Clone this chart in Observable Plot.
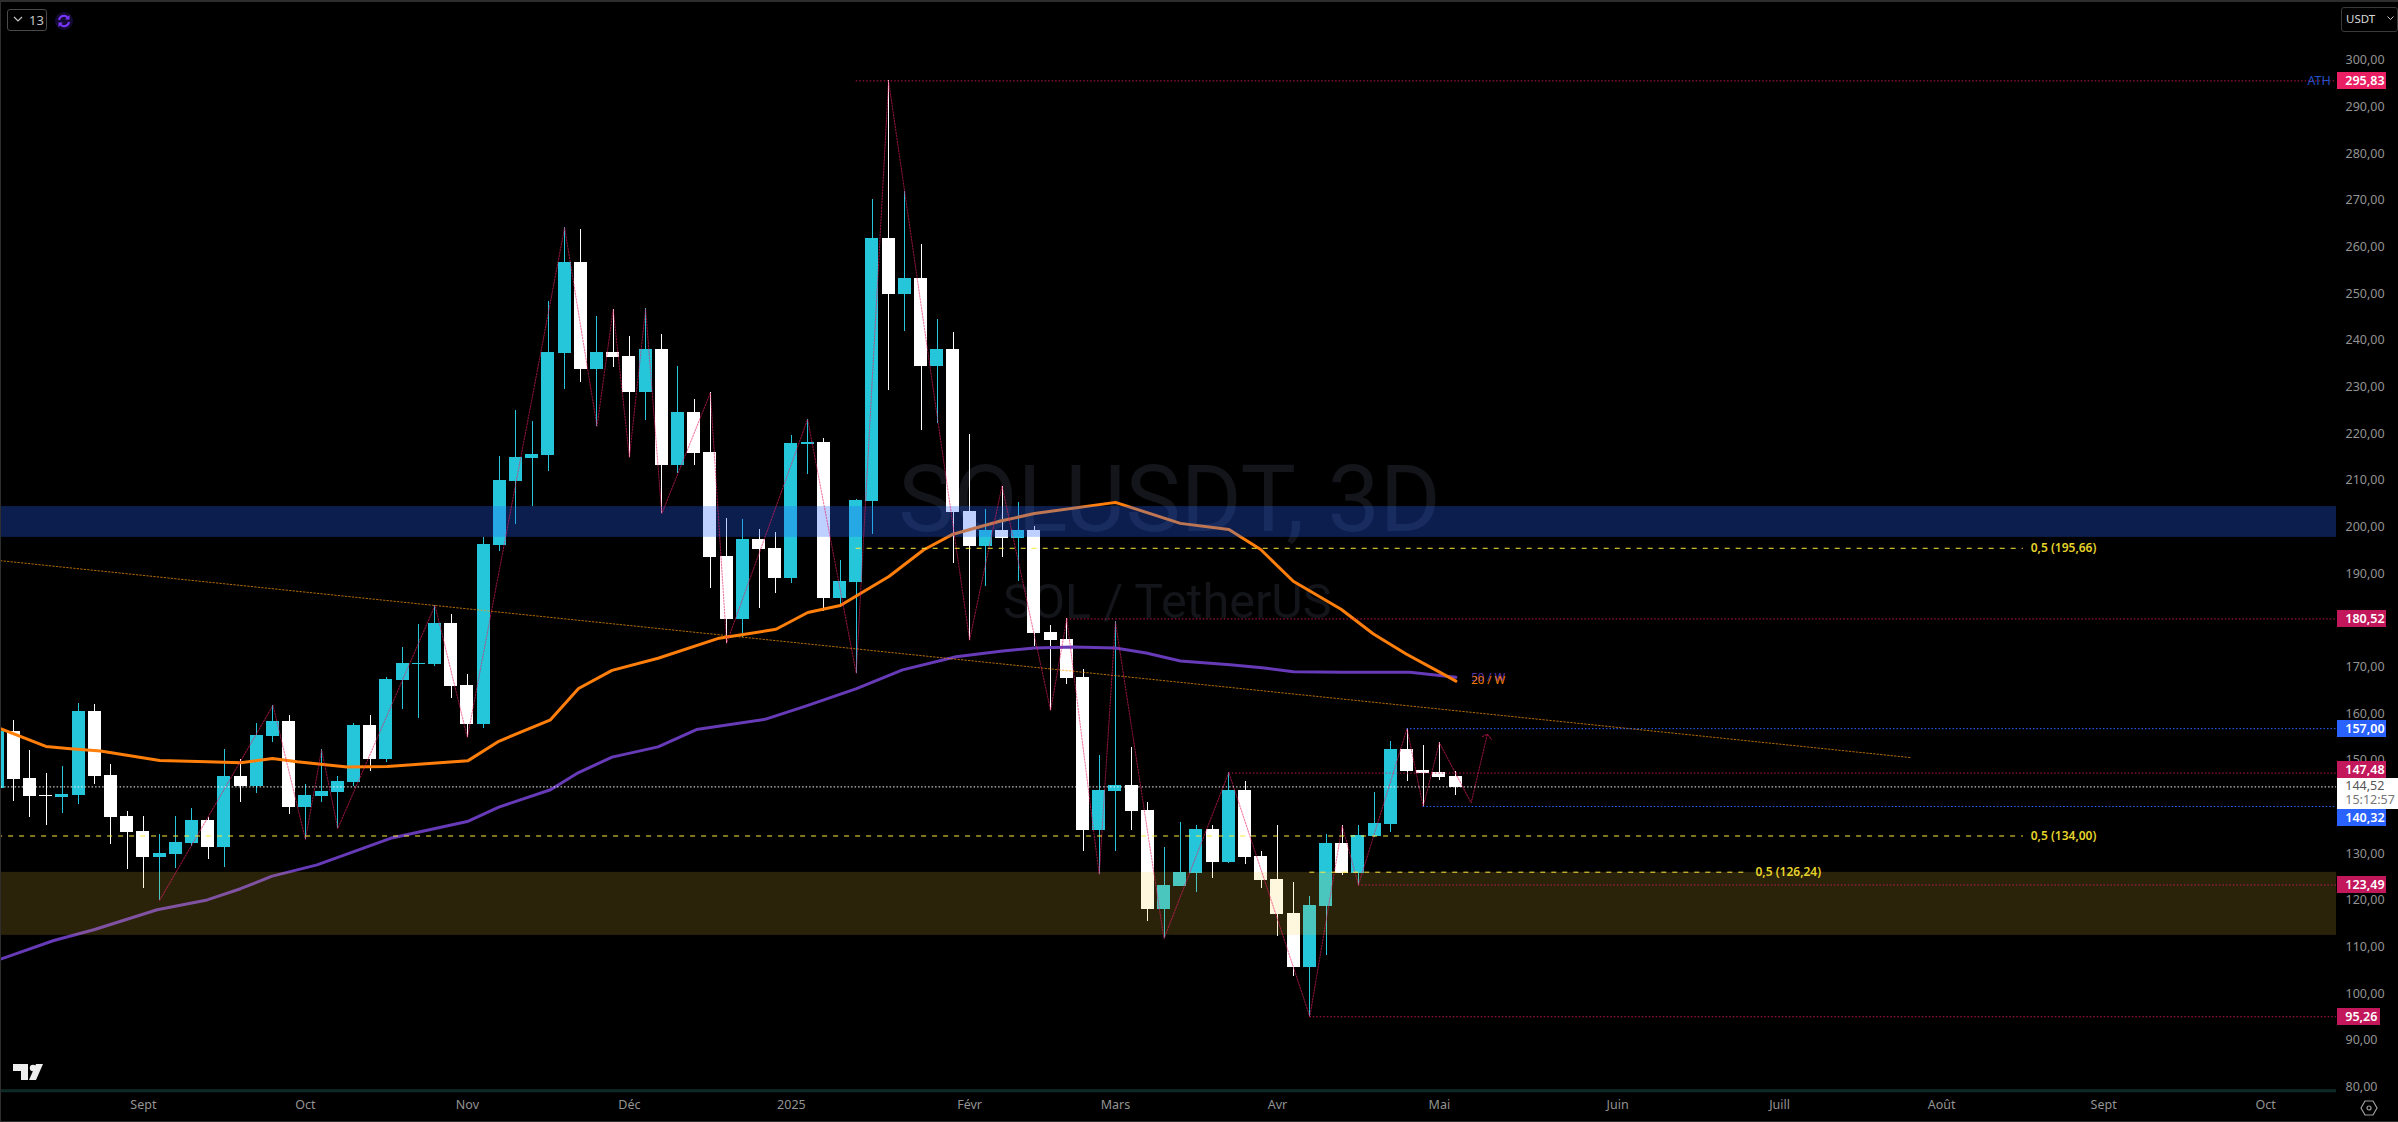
<!DOCTYPE html>
<html lang="fr">
<head>
<meta charset="utf-8">
<title>SOLUSDT, 3D</title>
<script src="https://cdn.jsdelivr.net/npm/d3@7"></script>
<script src="https://cdn.jsdelivr.net/npm/@observablehq/plot@0.6"></script>
<style>
html,body{margin:0;padding:0;background:#000;width:2398px;height:1122px;overflow:hidden}
#chart{position:absolute;left:0;top:0}
.chrome{position:absolute;font-family:"Noto Sans",sans-serif}
</style>
</head>
<body>
<div id="chart"></div>
<div class="chrome" style="left:0;top:0;width:2398px;height:2px;background:#2e2e2e"></div>
<div class="chrome" style="left:0;top:0;width:1px;height:1122px;background:#2e2e2e"></div>
<div class="chrome" style="left:0;top:1121px;width:2398px;height:1px;background:#2e2e2e"></div>
<div class="chrome" style="left:7px;top:9px;width:38px;height:20px;border:1px solid #4a4a4a;border-radius:3px;color:#c4c4c4;font-size:13px;line-height:20px;text-indent:21px">13</div>
<svg class="chrome" style="left:12px;top:14px" width="12" height="10"><path d="M2 3l4 4 4-4" fill="none" stroke="#c4c4c4" stroke-width="1.2"/></svg>
<svg class="chrome" style="left:54px;top:11px" width="20" height="20"><circle cx="10" cy="10" r="9" fill="#150a33"/><path d="M5 9a5 5 0 0 1 9-2M15 11a5 5 0 0 1-9 2" fill="none" stroke="#7a35ff" stroke-width="2"/><path d="M15.5 4v4.500h-4.500zM4.500 16v-4.500h4.500z" fill="#7a35ff"/></svg>
<div class="chrome" style="left:2341px;top:7px;width:55px;height:23px;border:1px solid #3a3a3a;border-radius:3px;color:#d8d8d8;font-size:11.500px;line-height:22px;text-indent:4px;box-sizing:content-box">USDT</div>
<svg class="chrome" style="left:2386px;top:14px" width="9" height="8"><path d="M1.500 2.500l3 3 3-3" fill="none" stroke="#c4c4c4" stroke-width="1"/></svg>
<svg class="chrome" style="left:12px;top:1063px" width="32" height="18"><path d="M1 1h15v16h-7V8H1z" fill="#eee"/><circle cx="21" cy="5" r="3.200" fill="#eee"/><path d="M24 1h7l-7 16h-7z" fill="#eee"/></svg>
<svg class="chrome" style="left:2360px;top:1099px" width="18" height="18"><path d="M5 2h8l4 7-4 7H5L1 9z" fill="none" stroke="#a0a0a0" stroke-width="1.200"/><circle cx="9" cy="9" r="2" fill="none" stroke="#a0a0a0" stroke-width="1.200"/></svg>
<script>
const open = [144.2,156.4,146.3,142.7,142.2,142.7,160.7,147,138.2,135,129.4,130,132.4,137.3,131.5,146.7,144.6,155.3,158.5,140.1,142.5,143.3,145.5,157.7,150.4,167.3,170.8,170.8,179.5,166.3,157.9,196.3,210,214.9,215.6,237.4,256.9,233.9,237.6,236.7,229,238.3,213.3,224.7,216.1,193.9,180.4,197.5,195.6,189.1,217.9,218.3,184.9,188.3,205.6,262,250,253.5,234.6,238.3,203.5,196,199.5,197.8,199.5,177.6,176.1,167.9,135.1,143.5,144.8,139.4,118.2,123.2,126,135.4,128.3,143.7,129.6,124.7,117.4,105.8,118.9,132.4,126,133.9,136.4,152.5,148,147.6,146.7];
const high = [158,158.7,152.3,147.4,148.9,162.4,162.2,149.3,139.2,138.2,134.3,138.2,139.9,138,152.5,150.4,158.1,162,159.8,145,152.5,146.8,158.1,159.8,168,174.4,179.3,183.4,181.5,168.6,198,215.3,225.2,222.8,248.5,264.4,264,245.3,246.8,241,247,241.5,234.6,227.5,229,202,201.8,199.6,199.1,219.8,223.3,219.2,193,206.1,270.5,295.83,272.2,260.8,244.7,241.8,220,203.9,209,205.4,200.3,179.1,180.52,169.7,151.2,179.9,153,141.1,131.5,136.9,136.2,136.2,147.6,145.7,130.6,136.2,124,121,134.3,136.2,136.2,143.3,154.2,157,153.4,154,147.9];
const low = [143,141.4,138,136.2,138.8,140.7,145,132.2,126.8,122.7,120.2,127,131.7,129,127.2,141.2,143.1,154,138.6,133.25,141.2,135.6,144.6,147.8,149.75,161.1,159.2,170.3,163.5,155.1,157,195,200.8,204.6,212.1,229.7,231.1,221.8,234.3,215.1,223.1,203.1,211.7,213.3,187,175.3,176.5,182.7,185.9,188.1,211.5,182.2,183.4,168.9,198.6,229.4,242.1,220.9,222.4,192.3,176,187.5,193.6,188.5,174.7,160.9,166.4,130.6,125.75,130.6,135.1,115.7,112,123.1,121.8,124.8,128,127.9,122.7,112.4,103.9,95.26,108.4,125.5,123.49,133.7,134.7,145.7,140.32,145.9,142.7];
const close = [156.4,146.1,142.5,142.5,142.9,160.7,146.7,138,134.7,129.4,130.2,132.6,137.3,131.5,146.7,144.6,155.5,158.5,140.1,142.7,143.5,145.7,157.7,150.4,167.5,171,171,179.5,166,157.9,196.5,210.2,215.1,215.8,237.6,256.9,233.9,237.6,236.6,229,238.3,213.3,224.7,216,193.6,180.4,197.5,195.4,189.1,218.1,218.3,184.9,188.5,205.9,262,250,253.5,234.6,238.3,203.3,196,199.5,197.8,199.5,177.4,175.9,167.8,135.1,143.7,144.8,139.2,118.2,123.3,126.1,135.4,128.3,143.7,129.4,124.5,117.2,105.8,119.1,132.4,126,134.1,136.7,152.5,147.8,147.4,146.5,144.4];

const ma20Bar = [-0.82,1.98,3.5,5.35,9.01,11.94,14,15.97,17.49,20.58,23.05,28.02,29.94,33.13,34.86,36.93,39.77,43.54,47.05,49.01,51.02,54.02,56.15,57.92,60.91,63,68,72.01,75.01,76.97,78.98,81.93,83.93,85.95,88.07,89.02];
const ma20Val = [157,153.2,152.7,152.2,150.2,149.9,149.7,150.6,149.9,148.8,148.9,150.1,154.3,158.9,165.6,169.5,172.1,176.4,178.3,181.9,183.4,189.6,195.3,198.6,201.5,203.1,205.5,201,199.7,195.4,188.6,182.6,177.3,173,169,167.2];
const ma50Bar = [-0.82,2.47,4.94,8.85,11.94,14,15.95,18.72,23.25,27.99,29.94,33.13,34.86,36.93,39.77,42.14,46.37,48.93,52.02,54.86,58.17,60.91,63,65.4,68,69.9,72.01,75.08,77.2,78.98,82.14,86.18,89.02];
const ma50Val = [107.6,111.6,113.9,118.2,120.3,122.7,125.4,127.8,133.5,137.1,140.2,143.9,147.6,150.9,153.1,156.8,159,161.9,165.6,169.6,172.4,173.6,174.3,174.5,174.3,173.2,171.5,170.7,170,169.2,169.1,169.1,168];

const zigBar = [9,16,18,19,20,26,28,34,36,37,38,39,40,43,44,49,52,54,59,61,64,65,67,68,71,75,80,82,83,86,87,88,89.96,90.96];
const zigVal = [120.2,162,133.25,152.5,135.6,183.4,155.1,264.4,221.8,246.8,215.1,247,203.1,229,175.3,223.3,168.9,295.83,176,209,160.9,180.52,125.75,179.9,112,147.6,95.26,136.2,123.49,157,140.32,154,141.1,155.8];
const arrowBar = [90.65,90.96,91.22];
const arrowVal = [155.3,155.8,154.7];

const trendBar = [-0.82,117.08];
const trendVal = [193,150.8];

const redLevels = [295.83,180.52,147.48,123.49,95.26];
const redStart = [52,65,75,83,80];
const blueLevels = [157,140.32];
const blueStart = [86,87];
const lastPrice = 144.52;
const fibLevels = [195.66,134,126.24];
const fibStart = [52,-1,80];
const fibEnd = [124.05,124.05,107.09];
const fibLabels = ["0,5 (195,66)","0,5 (134,00)","0,5 (126,24)"];
const fibLabelBar = [124.5,124.5,107.51];

const yTicks = [80,90,100,110,120,130,150,160,170,190,200,210,220,230,240,250,260,270,280,290,300];
const xTicks = [8,18,28,38,48,59,68,78,88,99,109,119,129,139];
const xLabels = ["Sept","Oct","Nov","Déc","2025","Févr","Mars","Avr","Mai","Juin","Juill","Août","Sept","Oct"];

const badgeText = ["295,83","180,52","157,00","147,48","140,32","123,49","95,26"];
const badgeAt = [295.83,180.52,157,148.19,137.9,123.49,95.26];
const badgeFill = ["#e91e63","#c2185b","#2962ff","#c2185b","#2962ff","#c2185b","#c2185b"];

const TEAL = "#26c6da", WHITE = "#ffffff", GOLD = "#ffeb3b", RED = "#e91e63", BLUE = "#2962ff";
const FONT = '"Noto Sans", sans-serif';

const candles = open.map((o,k)=>({i:k-1,open:o,high:high[k],low:low[k],close:close[k]}));
const up = candles.filter(d=>d.close>=d.open), down = candles.filter(d=>d.close<d.open);
const pts = (xs,ys)=>xs.map((x,k)=>({x,y:ys[k]}));
const RIGHT = 143.376;               // bar position of the plot's right edge
const BADGE_L = 143.44, BADGE_R = 146.47, BADGE_SHORT = 146.1, TEXT_X = 143.92, BOX_R = 147.45;

const candleMarks = (data,color)=>[
  Plot.ruleX(data,{x:"i",y1:"low",y2:"high",stroke:color,strokeWidth:1,shapeRendering:"crispEdges",clip:"frame"}),
  Plot.rect(data,{x1:d=>d.i-0.4,x2:d=>d.i+0.4,y1:d=>Math.min(d.open,d.close),y2:d=>Math.max(d.open,d.close),fill:color,shapeRendering:"crispEdges",clip:"frame"})
];
const ray = (vals,starts,color,op)=>Plot.ruleY(vals.map((v,k)=>({v,s:starts[k]})),{y:"v",x1:"s",x2:()=>RIGHT,stroke:color,strokeWidth:1,strokeDasharray:"1.500 2",strokeOpacity:op});

const chart = Plot.plot({
  width:2398,height:1122,marginLeft:1,marginRight:62,marginTop:2,marginBottom:31,
  style:{background:"#000",color:"#8a8a8a",fontFamily:FONT,fontSize:"12px"},
  x:{type:"linear",domain:[-0.759,RIGHT]},
  y:{type:"linear",domain:[79.24,312.63]},
  marks:[
    Plot.text(["SOLUSDT, 3D"],{x:()=>71.34,y:()=>205.7,text:d=>d,fontSize:93,fill:"#13151a",textAnchor:"middle",lineAnchor:"middle",fontFamily:"Roboto"}),
    Plot.text(["SOL / TetherUS"],{x:()=>71.2,y:()=>184,text:d=>d,fontSize:48.500,fill:"#13151a",textAnchor:"middle",lineAnchor:"middle",fontFamily:"Roboto"}),
    ...candleMarks(up,TEAL),
    ...candleMarks(down,WHITE),
    Plot.line(pts(ma50Bar,ma50Val),{x:"x",y:"y",stroke:"#673ab7",strokeWidth:3,clip:"frame"}),
    Plot.line(pts(ma20Bar,ma20Val),{x:"x",y:"y",stroke:"#ff7f0a",strokeWidth:3,clip:"frame"}),
    Plot.rectY([0],{y1:()=>198,y2:()=>204.6,fill:BLUE,fillOpacity:0.3}),
    Plot.rectY([0],{y1:()=>112.7,y2:()=>126.2,fill:"#ffc83c",fillOpacity:0.17}),
    Plot.line(pts(trendBar,trendVal),{x:"x",y:"y",stroke:"#ff9800",strokeWidth:1,strokeOpacity:0.7,strokeDasharray:"1.500 2",clip:"frame"}),
    Plot.line(pts(zigBar,zigVal),{x:"x",y:"y",stroke:RED,strokeWidth:1.100,strokeOpacity:0.6,strokeDasharray:"1.500 1.500"}),
    Plot.line(pts(arrowBar,arrowVal),{x:"x",y:"y",stroke:RED,strokeWidth:1.100,strokeOpacity:0.6,strokeDasharray:"1.500 1.500"}),
    ray(redLevels,redStart,RED,0.8),
    ray(blueLevels,blueStart,BLUE,1),
    ray([lastPrice],[-1],WHITE,0.95),
    Plot.ruleY(fibLevels.map((v,k)=>({v,s:fibStart[k],e:fibEnd[k]})),{y:"v",x1:"s",x2:"e",stroke:GOLD,strokeWidth:1,strokeDasharray:"5 6",clip:"frame"}),
    Plot.text(fibLabels,{x:(d,k)=>fibLabelBar[k],y:(d,k)=>fibLevels[k],text:d=>d,fill:"#e6d32a",fontSize:12,fontWeight:600,textAnchor:"start",lineAnchor:"middle"}),
    Plot.text(["50 / W"],{x:()=>89.96,y:()=>168,text:d=>d,fill:"#5e35b1",fontSize:11.500,textAnchor:"start",lineAnchor:"middle"}),
    Plot.text(["20 / W"],{x:()=>89.96,y:()=>167.3,text:d=>d,fill:"#f57c00",fontSize:11.500,textAnchor:"start",lineAnchor:"middle"}),
    Plot.ruleY([79.4],{stroke:"#0c2b26",strokeWidth:3}),
    Plot.axisX(xTicks,{anchor:"bottom",tickSize:0,tickPadding:9,label:null,fill:"#939393",fontSize:12.500,tickFormat:i=>xLabels[xTicks.indexOf(i)]}),
    Plot.axisY(yTicks,{anchor:"right",tickSize:0,tickPadding:9,label:null,fill:"#939393",fontSize:12.500,textAnchor:"start",dy:-1,tickFormat:d=>d.toFixed(2).replace(".",",")}),
    Plot.text(["ATH"],{x:()=>142.3,y:()=>295.83,text:d=>d,fill:"#2452c8",fontSize:12.500,textAnchor:"middle",lineAnchor:"middle"}),
    Plot.rect(badgeText,{x1:()=>BADGE_L,x2:(d,k)=>d==="95,26"?BADGE_SHORT:BADGE_R,y1:(d,k)=>badgeAt[k]-1.79,y2:(d,k)=>badgeAt[k]+1.79,fill:(d,k)=>badgeFill[k],shapeRendering:"crispEdges"}),
    Plot.text(badgeText,{x:()=>TEXT_X,y:(d,k)=>badgeAt[k],text:d=>d,fill:"#fff",fontSize:12.500,fontWeight:600,textAnchor:"start",lineAnchor:"middle"}),
    Plot.rect([0],{x1:()=>BADGE_L,x2:()=>BOX_R,y1:()=>139.7,y2:()=>146.3,fill:"#fff",shapeRendering:"crispEdges"}),
    Plot.text(["144,52"],{x:()=>TEXT_X,y:()=>144.67,text:d=>d,fill:"#555",fontSize:12.500,textAnchor:"start",lineAnchor:"middle"}),
    Plot.text(["15:12:57"],{x:()=>TEXT_X,y:()=>141.76,text:d=>d,fill:"#777",fontSize:12.500,textAnchor:"start",lineAnchor:"middle"})
  ]
});
document.getElementById("chart").append(chart);
</script>
</body>
</html>
